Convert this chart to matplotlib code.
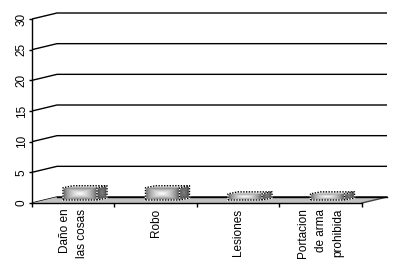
import numpy as np
import matplotlib
matplotlib.use('Agg')
import matplotlib.pyplot as plt
from matplotlib.patches import Polygon

categories = ["Daño en\nlas cosas", "Robo", "Lesiones", "Portacion\nde arma\nprohibida"]
values = [2, 2, 1, 1]
yticks = [0, 5, 10, 15, 20, 25, 30]

plt.rcParams['font.family'] = ['Liberation Sans', 'DejaVu Sans']
plt.rcParams['font.size'] = 8.5

W, H = 406, 271
fig = plt.figure(figsize=(W / 100, H / 100), dpi=100)
fig.patch.set_facecolor('white')
ax = fig.add_axes([32 / W, 68 / H, 330 / W, 184 / H])
ax.set_facecolor('none')

n = len(categories)
ymax = yticks[-1]
px_x = 330 / n          # pixels per category
px_y = 184 / ymax       # pixels per unit
DX, DY = 25 / px_x, 6 / px_y   # depth offset in data units

# back wall gridlines (with slanted side-wall part)
for v in yticks:
    ax.plot([0, DX, n + DX], [v, v + DY, v + DY], color='black', lw=1,
            clip_on=False, zorder=1, solid_capstyle='butt')

# floor
floor = Polygon([(0, 0), (n, 0), (n + DX, DY), (DX, DY)], closed=True,
                facecolor='#c0c0c0', edgecolor='none', zorder=2, clip_on=False)
ax.add_patch(floor)
ax.plot([n, n + DX], [0, DY], color='#404040', lw=1, clip_on=False, zorder=2)
ax.plot([DX, n + DX], [DY, DY], color='black', lw=1, clip_on=False, zorder=2)


def rect_grad(nx, ny, c_edge, c_mid, p=0.6):
    u = np.linspace(-1, 1, nx)
    v = np.linspace(-1, 1, ny)
    U, V = np.meshgrid(u, v)
    m = np.maximum(np.abs(U), np.abs(V))
    t = (1 - m) ** p
    return c_edge + (c_mid - c_edge) * t


# bars
fw = 34 / px_x
off = 31 / px_x
base = 3 / px_y
sdx, sdy = 10 / px_x, 2 / px_y
for i, val in enumerate(values):
    x0 = i + off
    x1 = x0 + fw
    b = base
    t = base + val
    g = rect_grad(80, 40, 0.28, 1.0, 0.55)
    ax.imshow(g, cmap='gray', vmin=0, vmax=1, extent=(x0, x1, b, t),
              aspect='auto', zorder=4, interpolation='bilinear', clip_on=False)
    side = Polygon([(x1, b), (x1 + sdx, b + sdy), (x1 + sdx, t + sdy), (x1, t)],
                   closed=True, facecolor='none', edgecolor='none')
    ax.add_patch(side)
    gs = rect_grad(20, 40, 0.25, 0.5, 0.7)
    im = ax.imshow(gs, cmap='gray', vmin=0, vmax=1,
                   extent=(x1, x1 + sdx, b, t + sdy), aspect='auto', zorder=4,
                   interpolation='bilinear')
    im.set_clip_path(side)
    top = Polygon([(x0, t), (x1, t), (x1 + sdx, t + sdy), (x0 + sdx, t + sdy)],
                  closed=True, facecolor='#d0d0d0', edgecolor='none', zorder=4,
                  clip_on=False)
    ax.add_patch(top)
    outline_x = [x0, x1, x1 + sdx, x1 + sdx, x0 + sdx, x0, x0]
    outline_y = [b, b, b + sdy, t + sdy, t + sdy, t, b]
    for xs, ys in [(outline_x, outline_y), ([x1, x1, x1 + sdx], [b, t, t + sdy])]:
        ax.plot(xs, ys, color='white', lw=1, zorder=5, clip_on=False)
        ax.plot(xs, ys, color='black', lw=1, ls=(0, (1, 1)), zorder=6, clip_on=False)

ax.set_xlim(0, n)
ax.set_ylim(0, ymax)

for s in ['top', 'right']:
    ax.spines[s].set_visible(False)
for s in ['left', 'bottom']:
    ax.spines[s].set_linewidth(1)
    ax.spines[s].set_zorder(7)

ax.set_yticks(yticks)
ax.set_yticklabels([str(v) for v in yticks])
ax.tick_params(axis='y', direction='out', length=2.5, width=1, pad=0.5,
               labelrotation=90, labelsize=8.5)
for lab in ax.get_yticklabels():
    lab.set_va('center')

ax.set_xticks(np.arange(n + 1))
ax.set_xticklabels([])
ax.set_xticks(np.arange(n) + 0.5, minor=True)
ax.set_xticklabels(categories, minor=True)
ax.tick_params(axis='x', which='major', direction='out', length=3, width=1)
ax.tick_params(axis='x', which='minor', length=0, pad=4, labelsize=8.5)
for lab in ax.get_xticklabels(minor=True):
    lab.set_rotation(90)
    lab.set_va('top')
    lab.set_ha('center')
    lab.set_multialignment('right')
    lab.set_linespacing(1.6)

fig.savefig('out.png', dpi=100, facecolor='white')
